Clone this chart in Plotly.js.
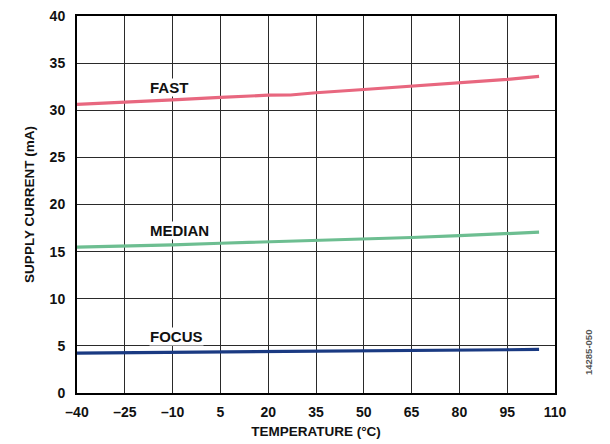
<!DOCTYPE html>
<html>
<head>
<meta charset="utf-8">
<script src="https://cdn.plot.ly/plotly-3.0.1.min.js"></script>
<style>html,body{margin:0;padding:0;background:#fff;}#chart{width:610px;height:444px;}</style>
</head>
<body>
<div id="chart"></div>
<script>
var temps = [-40, -25, -10, 5, 20, 27, 35, 50, 65, 80, 95, 105];
var fast = [30.62, 30.83, 31.1, 31.36, 31.6, 31.62, 31.86, 32.2, 32.56, 32.9, 33.27, 33.6];
var median = [15.47, 15.58, 15.71, 15.89, 16.03, 16.08, 16.14, 16.32, 16.5, 16.7, 16.92, 17.06];
var focus = [4.24, 4.27, 4.31, 4.38, 4.41, 4.41, 4.41, 4.45, 4.49, 4.52, 4.59, 4.63];
var xTickVals = [-40, -25, -10, 5, 20, 35, 50, 65, 80, 95, 110];
var xTickText = ['\u201340', '\u201325', '\u201310', '5', '20', '35', '50', '65', '80', '95', '110'];
var yTickVals = [0, 5, 10, 15, 20, 25, 30, 35, 40];
var seriesNames = ['FAST', 'MEDIAN', 'FOCUS'];
var labelX = [-11, -7.7, -8.7];
var labelY = [32.4, 17.2, 6.04];

var fam = 'Liberation Sans, Arial, sans-serif';
var tickFont = {family: fam, size: 14, color: '#111', weight: 'bold'};
var titleFont = {family: fam, size: 13.5, color: '#111', weight: 'bold'};
var labelFont = {family: fam, size: 15, color: '#111', weight: 'bold'};
var colors = ['#E8677F', '#6DBE91', '#1A3A82'];
var ys = [fast, median, focus];

var traces = ys.map(function(y, i){
  return {x: temps, y: y, mode: 'lines', name: seriesNames[i],
    line: {color: colors[i], width: 3.2}, hoverinfo: 'skip'};
});

var annotations = seriesNames.map(function(n, i){
  return {x: labelX[i], y: labelY[i], xref: 'x', yref: 'y', text: n, showarrow: false,
    font: labelFont, bgcolor: 'rgba(255,255,255,1)', borderpad: 0};
});
annotations.push({x: (596 - 77) / (555 - 77), y: (393 - 377) / (393 - 15.5),
  xref: 'paper', yref: 'paper', text: '14285-050',
  showarrow: false, textangle: -90, font: {family: fam, size: 9.5, color: '#555'}});

var layout = {
  width: 610, height: 444,
  margin: {l: 77, r: 55, t: 15.5, b: 51, pad: 0},
  paper_bgcolor: '#fff', plot_bgcolor: '#fff',
  showlegend: false,
  font: tickFont,
  xaxis: {
    range: [-40, 110], tickvals: xTickVals, ticktext: xTickText,
    showgrid: true, gridcolor: '#2a2a2a', gridwidth: 1,
    zeroline: false, showline: true, linecolor: '#000', linewidth: 2, mirror: true,
    ticks: '', ticklabelstandoff: 5, tickfont: tickFont,
    title: {text: 'TEMPERATURE (\u00B0C)', font: titleFont, standoff: 8}
  },
  yaxis: {
    range: [0, 40], tickvals: yTickVals,
    showgrid: true, gridcolor: '#2a2a2a', gridwidth: 1,
    zeroline: false, showline: true, linecolor: '#000', linewidth: 2, mirror: true,
    ticks: '', ticklabelstandoff: 7, tickfont: tickFont,
    title: {text: 'SUPPLY CURRENT (mA)', font: titleFont, standoff: 12}
  },
  annotations: annotations
};

Plotly.newPlot('chart', traces, layout, {staticPlot: true, displayModeBar: false});
</script>
</body>
</html>
